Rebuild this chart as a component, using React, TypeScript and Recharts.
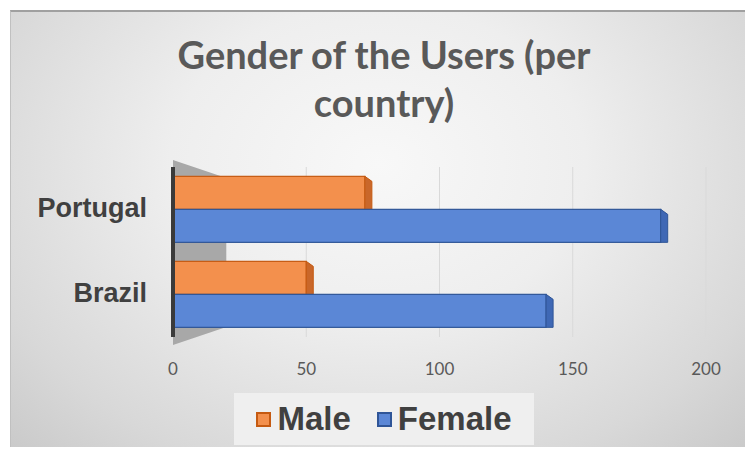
import React from 'react';
import { BarChart, Bar, XAxis, YAxis, CartesianGrid, Legend, ReferenceArea } from 'recharts';

const categories = ['Portugal', 'Brazil'];
const maleValues = [72, 50];
const femaleValues = [183, 140];
const valueTicks = [0, 50, 100, 150, 200];
const seriesOrder = ['Male', 'Female'];

const data = categories.map((country, i) => ({
  country,
  Male: maleValues[i],
  Female: femaleValues[i],
}));

const FONT = 'Lato, "Open Sans", sans-serif';
const ARIAL = '"Liberation Sans", Arial, sans-serif';

const colors: Record<string, { front: string; side: string; edge: string }> = {
  Male: { front: '#F3904D', side: '#C9672A', edge: '#C55A11' },
  Female: { front: '#5B87D6', side: '#3F68B5', edge: '#2F5597' },
};

// fake 3D: front face plus a darker end face
const make3DBar = (name: string) => (props: any) => {
  const { x, y, width, height } = props;
  if (!width || width <= 0) return <g />;
  const c = colors[name];
  const d = 7;
  return (
    <g>
      <rect x={x} y={y} width={width} height={height} fill={c.front} stroke={c.edge} strokeWidth={1.2} />
      <polygon
        points={`${x + width},${y} ${x + width + d},${y + 5} ${x + width + d},${y + height} ${x + width},${y + height}`}
        fill={c.side}
        stroke={c.edge}
        strokeWidth={1}
      />
    </g>
  );
};

// grey floor wall on the left
const floorShape = (props: any) => {
  const { x, y, width, height } = props;
  return (
    <polygon
      points={`${x},${y - 7} ${x + width},${y + 11} ${x + width},${y + height - 10} ${x},${y + height + 8}`}
      fill="#a8a8a8"
    />
  );
};

const renderLegend = (props: any) => {
  const payload = [...(props.payload || [])].sort(
    (a: any, b: any) => seriesOrder.indexOf(a.value) - seriesOrder.indexOf(b.value)
  );
  return (
    <div
      style={{
        display: 'flex',
        justifyContent: 'center',
        alignItems: 'center',
        height: 52,
        background: '#efefef',
        fontFamily: ARIAL,
      }}
    >
      {payload.map((entry: any, i: number) => (
        <div key={entry.value} style={{ display: 'flex', alignItems: 'center', marginLeft: i ? 26 : 0 }}>
          <span
            style={{
              display: 'inline-block',
              width: 11,
              height: 11,
              background: colors[entry.value].front,
              border: `2px solid ${colors[entry.value].edge}`,
            }}
          />
          <span style={{ marginLeft: 6, fontSize: 33, fontWeight: 700, color: '#404040' }}>{entry.value}</span>
        </div>
      ))}
    </div>
  );
};

export default function App() {
  return (
    <div style={{ position: 'absolute', left: 0, top: 0, width: 745, height: 452, background: '#fff' }}>
      <div
        style={{
          position: 'absolute',
          left: 10,
          top: 10,
          width: 735,
          height: 437,
          borderTop: '2px solid #a0a0a0',
          borderLeft: '1px solid #c0c0c0',
          boxSizing: 'border-box',
          background: 'radial-gradient(ellipse at 50% 35%, #f8f8f8 0%, #eeeeee 40%, #d8d8d8 80%, #cacaca 100%)',
        }}
      >
        <div
          style={{
            position: 'absolute',
            left: 0,
            top: 18,
            width: 746,
            textAlign: 'center',
            fontFamily: FONT,
            fontSize: 38,
            fontWeight: 700,
            lineHeight: '48px',
            color: '#595959',
          }}
        >
          Gender of the Users (per
          <br />
          country)
        </div>
        <BarChart
          width={735}
          height={437}
          data={data}
          layout="vertical"
          margin={{ top: 155, right: 40, bottom: 82, left: 0 }}
          barCategoryGap="11%"
          barGap={0}
          style={{ position: 'absolute', left: 0, top: 0 }}
        >
          <CartesianGrid horizontal={false} stroke="#d9d9d9" />
          <ReferenceArea x1={0} x2={20} shape={floorShape} />
          <XAxis
            type="number"
            domain={[0, 200]}
            ticks={valueTicks}
            axisLine={false}
            tickLine={false}
            tickSize={0}
            tickMargin={26}
            height={30}
            tick={{ fill: '#595959', fontSize: 17, fontFamily: FONT }}
          />
          <YAxis
            type="category"
            dataKey="country"
            width={162}
            axisLine={{ stroke: '#3a3a3a', strokeWidth: 4 }}
            tickLine={false}
            tickMargin={20}
            tick={{ fill: '#404040', fontSize: 27, fontWeight: 700, fontFamily: ARIAL, dy: -2 }}
          />
          <Legend
            layout="horizontal"
            verticalAlign="middle"
            align="center"
            content={renderLegend}
            wrapperStyle={{ left: 223, top: 381, width: 300, height: 52 }}
          />
          <Bar dataKey="Male" fill={colors.Male.front} shape={make3DBar('Male')} isAnimationActive={false} />
          <Bar dataKey="Female" fill={colors.Female.front} shape={make3DBar('Female')} isAnimationActive={false} />
        </BarChart>
      </div>
    </div>
  );
}
